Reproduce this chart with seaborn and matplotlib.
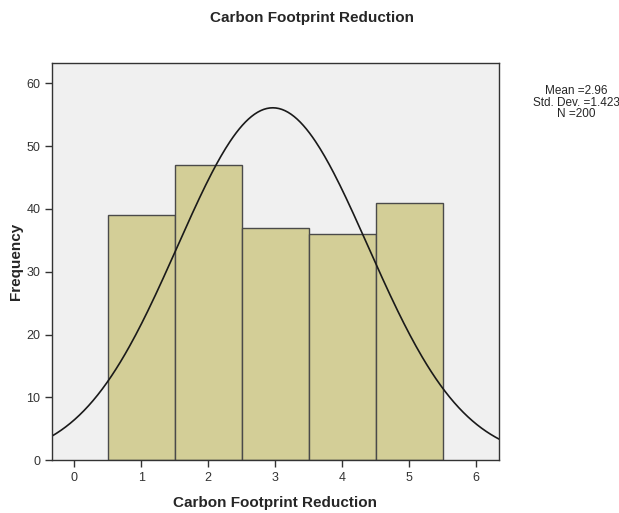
import numpy as np
import pandas as pd
import matplotlib
matplotlib.use('Agg')
import matplotlib.pyplot as plt
import seaborn as sns

# histogram data
values = [1, 2, 3, 4, 5]
counts = [39, 47, 37, 36, 41]
x_ticks = [0, 1, 2, 3, 4, 5, 6]
y_ticks = [0, 10, 20, 30, 40, 50, 60]

df = pd.DataFrame({'value': values, 'count': counts})

# stats for the normal curve
n = int(df['count'].sum())
mean = np.average(df['value'], weights=df['count'])
var = np.sum(df['count'] * (df['value'] - mean) ** 2) / (n - 1)
sd = np.sqrt(var)

sns.set_style('white')
plt.rcParams['font.family'] = ['Liberation Sans', 'DejaVu Sans']

fig = plt.figure(figsize=(6.19, 5.13), dpi=100)
ax = fig.add_axes([0.084, 0.103, 0.722, 0.774])
ax.set_facecolor('#f0f0f0')

sns.histplot(data=df, x='value', weights='count', discrete=True, ax=ax,
             color='#d3ce97', edgecolor='#4a4a4a', linewidth=1.0, alpha=1)

xs = np.linspace(-0.4, 6.4, 300)
curve = pd.DataFrame({
    'x': xs,
    'y': n * 1.0 / (sd * np.sqrt(2 * np.pi)) * np.exp(-0.5 * ((xs - mean) / sd) ** 2)
})
sns.lineplot(data=curve, x='x', y='y', ax=ax, color='#1a1a1a', linewidth=1.2)

ax.set_xlim(-0.33, 6.34)
ax.set_ylim(0, 63.2)
ax.set_xticks(x_ticks)
ax.set_yticks(y_ticks)
ax.tick_params(axis='both', direction='out', length=5, width=1, color='#333333',
               labelsize=9, labelcolor='#333333', bottom=True, left=True)
for s in ax.spines.values():
    s.set_color('#333333')
    s.set_linewidth(1.0)

ax.set_xlabel('Carbon Footprint Reduction', fontsize=11, fontweight='bold', labelpad=9)
ax.set_ylabel('Frequency', fontsize=11, fontweight='bold')
ax.yaxis.set_label_coords(-0.064, 0.5)
fig.text(0.504, 0.965, 'Carbon Footprint Reduction', ha='center', va='center',
         fontsize=11, fontweight='bold')

fig.text(0.931, 0.80, f'Mean ={mean:.2f}\nStd. Dev. ={sd:.3f}\nN ={n}',
         ha='center', va='center', fontsize=8.5, linespacing=0.9)

fig.savefig('out.png', dpi=100)
